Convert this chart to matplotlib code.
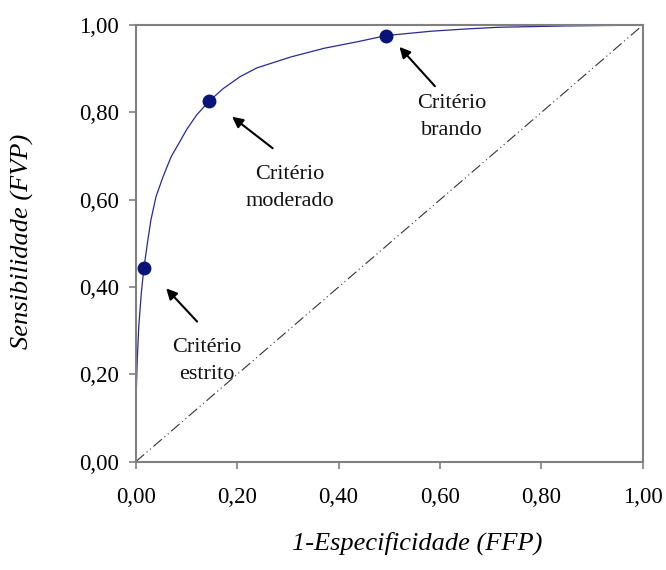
import numpy as np
import matplotlib
matplotlib.use("Agg")
import matplotlib.pyplot as plt

# curva ROC
ffp = [0.0, 0.0, 0.001, 0.003, 0.006, 0.011, 0.016, 0.024, 0.030, 0.040, 0.054,
       0.070, 0.087, 0.100, 0.120, 0.145, 0.173, 0.206, 0.239, 0.306, 0.372,
       0.438, 0.494, 0.583, 0.650, 0.716, 0.847, 1.0]
fvp = [0.0, 0.081, 0.158, 0.233, 0.310, 0.386, 0.443, 0.508, 0.554, 0.607, 0.653,
       0.699, 0.733, 0.760, 0.794, 0.826, 0.855, 0.882, 0.902, 0.927, 0.947,
       0.962, 0.976, 0.986, 0.991, 0.995, 0.998, 1.0]

# critérios marcados
crit_x = [0.016, 0.145, 0.494]
crit_y = [0.443, 0.826, 0.976]
crit_nomes = ["Critério\nestrito", "Critério\nmoderado", "Critério\nbrando"]
crit_texto = [(0.141, 0.231), (0.303, 0.627), (0.623, 0.789)]
crit_seta_ponta = [(0.06, 0.397), (0.19, 0.79), (0.52, 0.95)]
crit_seta_cauda = [(0.121, 0.321), (0.27, 0.718), (0.59, 0.86)]

ticks = [0.0, 0.2, 0.4, 0.6, 0.8, 1.0]
tick_labels = ["0,00", "0,20", "0,40", "0,60", "0,80", "1,00"]

plt.rcParams['font.family'] = ['Liberation Serif', 'DejaVu Serif']

fig = plt.figure(figsize=(6.66, 5.70), dpi=100)
ax = fig.add_axes([0.2038, 0.19, 0.7614, 0.766])

# diagonal (acaso)
ax.plot([0, 1], [0, 1], color='#333333', lw=0.8, dashes=(10, 3, 1, 3, 1, 3))

ax.plot(ffp, fvp, color='#2a2a90', lw=0.9)
ax.plot(crit_x, crit_y, 'o', color='#0a1478', markersize=9, zorder=5)

for nome, txt, ponta, cauda in zip(crit_nomes, crit_texto, crit_seta_ponta, crit_seta_cauda):
    ax.annotate("", xy=ponta, xytext=cauda,
                arrowprops=dict(arrowstyle='-|>', color='black', lw=1.5,
                                mutation_scale=16, shrinkA=0, shrinkB=0))
    ax.text(txt[0], txt[1], nome, ha='center', va='center', fontsize=16,
            linespacing=1.55, color='#111111')

ax.set_xlim(0, 1)
ax.set_ylim(0, 1)
ax.set_xticks(ticks)
ax.set_xticklabels(tick_labels)
ax.set_yticks(ticks)
ax.set_yticklabels(tick_labels)
ax.tick_params(direction='out', length=5, width=1.2, color='#808080',
               labelsize=16.5)
ax.tick_params(axis='x', pad=13)
ax.tick_params(axis='y', pad=7)
for s in ax.spines.values():
    s.set_color('#808080')
    s.set_linewidth(1.5)

fig.text(0.626, 0.047, "1-Especificidade (FFP)", ha='center', va='center',
         fontsize=19, style='italic')
fig.text(0.033, 0.576, "Sensibilidade (FVP)", ha='center', va='center',
         fontsize=19, style='italic', rotation=90)

fig.savefig("out.png", dpi=100)
